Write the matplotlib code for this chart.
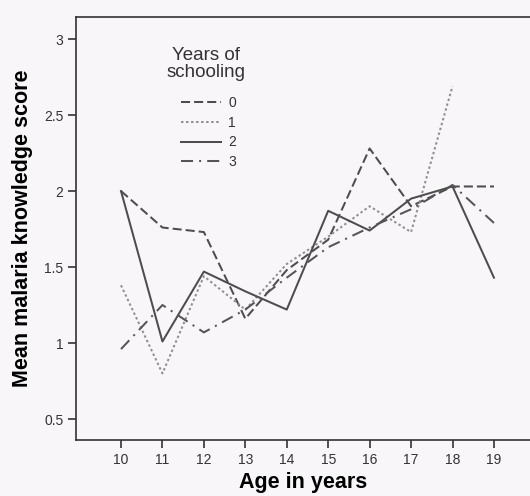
import numpy as np
import matplotlib
matplotlib.use('Agg')
import matplotlib.pyplot as plt

# values
AGES = [10, 11, 12, 13, 14, 15, 16, 17, 18, 19]
SCHOOL_0 = [2.00, 1.76, 1.73, 1.16, 1.48, 1.68, 2.28, 1.90, 2.03, 2.03]
SCHOOL_1 = [1.38, 0.80, 1.44, 1.22, 1.52, 1.70, 1.90, 1.73, 2.69, np.nan]
SCHOOL_2 = [2.00, 1.01, 1.47, 1.34, 1.22, 1.87, 1.74, 1.95, 2.03, 1.43]
SCHOOL_3 = [0.96, 1.25, 1.07, 1.22, 1.43, 1.63, 1.76, 1.88, 2.04, 1.79]
LABELS = ['0', '1', '2', '3']
Y_TICKS = [0.5, 1, 1.5, 2, 2.5, 3]
Y_TICK_LABELS = ['0.5', '1', '1.5', '2', '2.5', '3']

BG = '#f8f6f9'
DARK = '#4d4d4d'
TEXT = '#333333'

plt.rcParams['font.family'] = ['Liberation Sans', 'DejaVu Sans']

fig = plt.figure(figsize=(5.30, 4.96), dpi=100, facecolor=BG)
ax = fig.add_axes([76 / 530, 56 / 496, 454 / 530, 423 / 496], facecolor=BG)

styles = [
    dict(color=DARK, dashes=(4.5, 2.0)),
    dict(color='#8f8f8f', dashes=(1.2, 1.3)),
    dict(color=DARK, linestyle='-'),
    dict(color='#555555', dashes=(6.0, 3.0, 1.0, 3.0)),
]
for values, label, style in zip([SCHOOL_0, SCHOOL_1, SCHOOL_2, SCHOOL_3], LABELS, styles):
    ax.plot(AGES, values, linewidth=1.45, label=label, **style)

ax.set_xlim(8.914, 19.87)
ax.set_ylim(0.362, 3.145)
ax.set_xticks(AGES)
ax.set_yticks(Y_TICKS)
ax.set_yticklabels(Y_TICK_LABELS)

for side in ['left', 'bottom', 'top']:
    ax.spines[side].set_color(TEXT)
    ax.spines[side].set_linewidth(1.2)
ax.spines['right'].set_visible(False)

ax.tick_params(direction='out', length=6, width=1.2, color=TEXT,
               labelsize=10, labelcolor=TEXT, pad=3)

ax.set_xlabel('Age in years', fontsize=15.5, fontweight='bold', labelpad=4)
ax.set_ylabel('Mean malaria knowledge score', fontsize=15.5, fontweight='bold', labelpad=8)

# legend title drawn separately so its gap to the entries matches
fig.text(206 / 530, 1 - 64 / 496, 'Years of\nschooling', fontsize=13.5, color=TEXT,
         ha='center', va='center', multialignment='center', linespacing=1.0)
leg = ax.legend(frameon=False, loc='upper left', bbox_to_anchor=(0.204, 0.842),
                fontsize=10, handlelength=2.9, handletextpad=0.5, labelspacing=0.4,
                labelcolor=TEXT)

fig.savefig('out.png', dpi=100, facecolor=BG)
